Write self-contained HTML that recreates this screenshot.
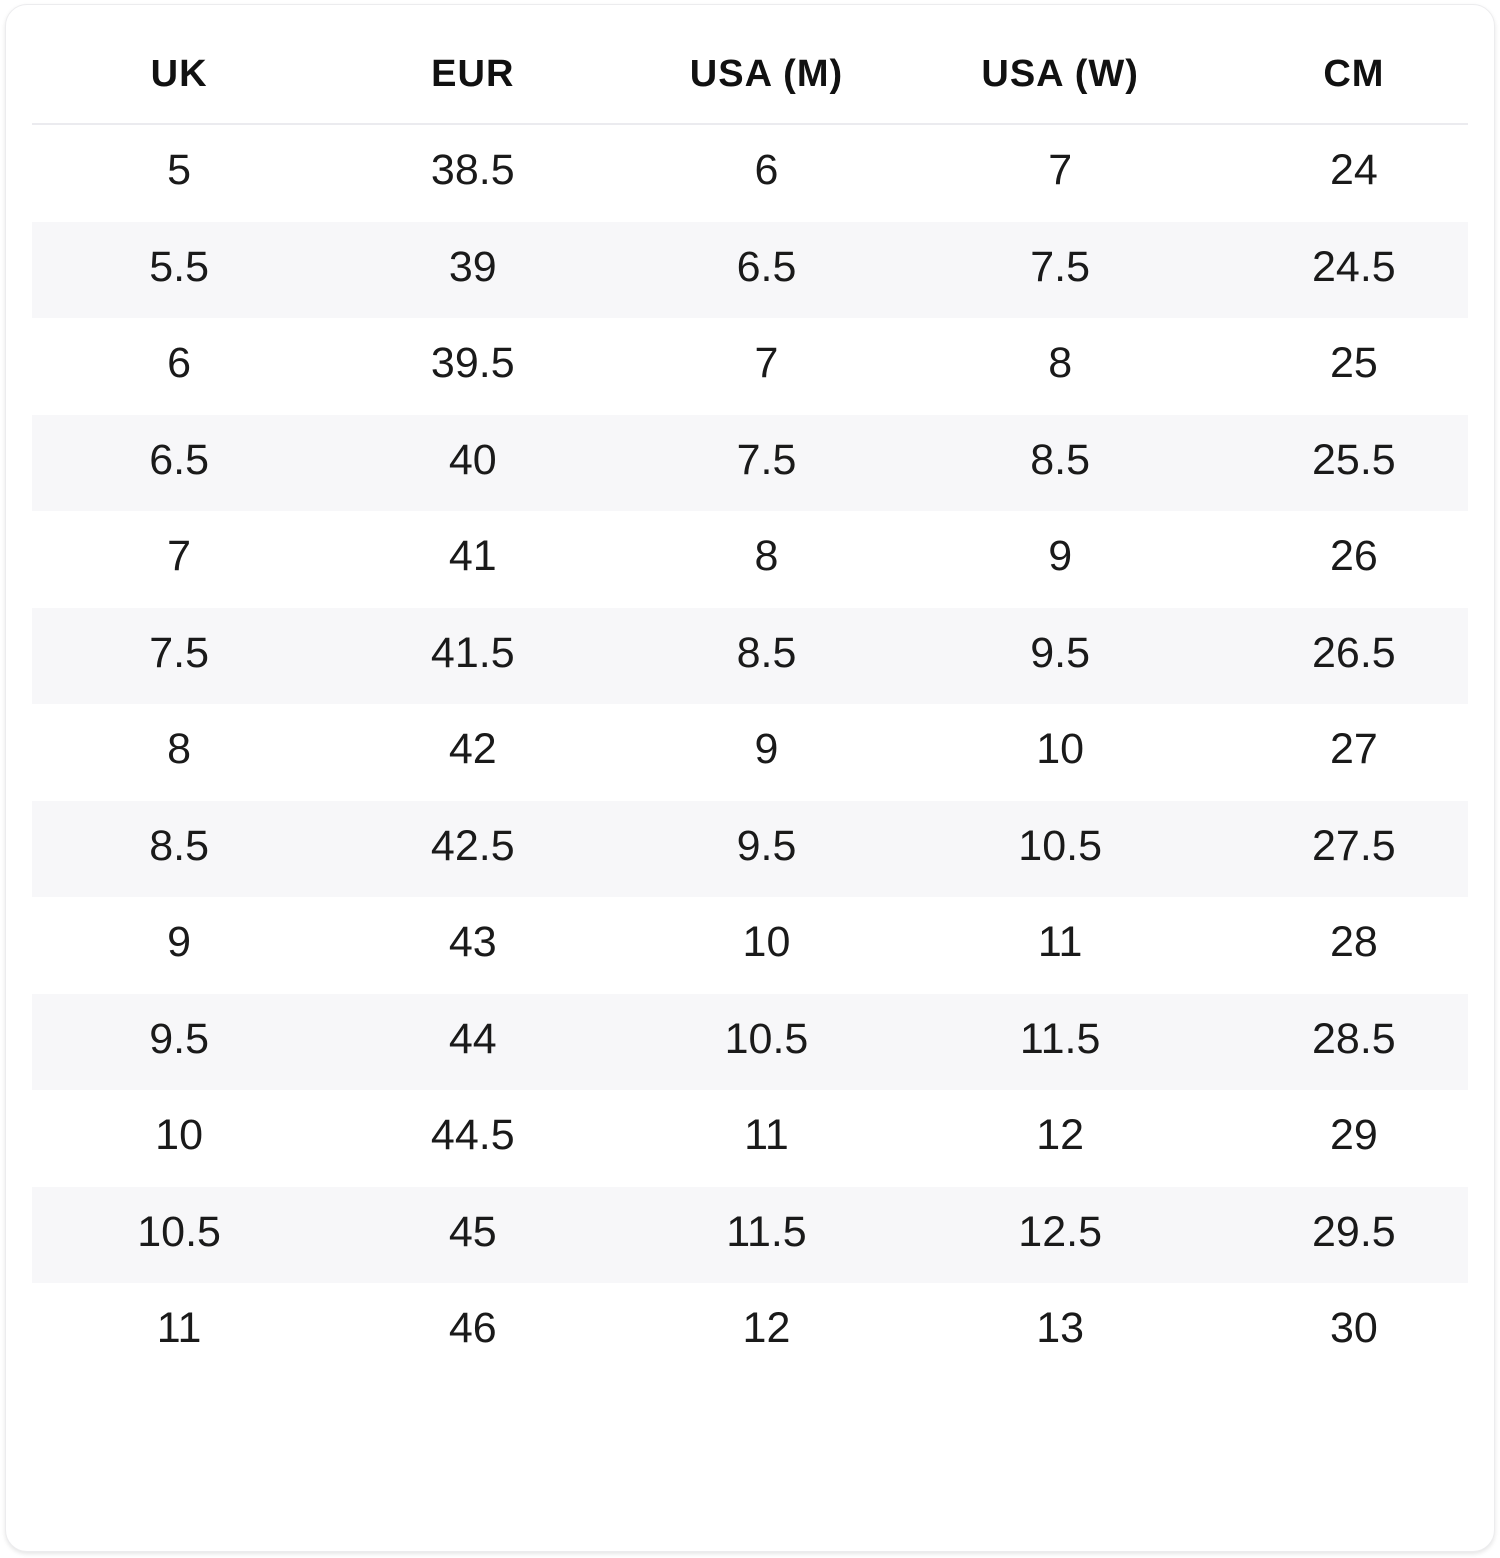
<!DOCTYPE html>
<html><head><meta charset="utf-8"><style>
html,body{margin:0;padding:0;background:#fff;width:1500px;height:1558px;overflow:hidden}
.card{position:absolute;left:5px;top:4px;width:1488px;height:1546px;border:1px solid #ececee;border-radius:22px;box-shadow:0 2px 4px rgba(0,0,0,0.10);background:#fff}
table{position:absolute;left:32px;top:26px;width:1436px;border-collapse:collapse;table-layout:fixed;font-family:"Liberation Sans",sans-serif}
th{height:97px;font-weight:bold;font-size:38px;color:#111;text-align:center;border-bottom:2px solid #ebebef;padding:0;letter-spacing:1px;vertical-align:middle}
td{height:90px;font-size:43px;color:#1a1a1a;text-align:center;padding:0 0 6px 0;vertical-align:middle}
tr:nth-child(odd) td{height:91px}
th:nth-child(1),td:nth-child(1){padding-left:7px}
th:nth-child(2),td:nth-child(2){padding-left:20px}
th:nth-child(3),td:nth-child(3){padding-left:33px}
th:nth-child(4),td:nth-child(4){padding-left:46px}
th:nth-child(5),td:nth-child(5){padding-left:59px}
tr:nth-child(even) td{background:#f7f7f9}
</style></head><body>
<div class="card"></div>
<table>
<colgroup><col><col><col><col><col></colgroup>
<thead><tr><th>UK</th><th>EUR</th><th>USA (M)</th><th>USA (W)</th><th>CM</th></tr></thead>
<tbody>
<tr><td>5</td><td>38.5</td><td>6</td><td>7</td><td>24</td></tr>
<tr><td>5.5</td><td>39</td><td>6.5</td><td>7.5</td><td>24.5</td></tr>
<tr><td>6</td><td>39.5</td><td>7</td><td>8</td><td>25</td></tr>
<tr><td>6.5</td><td>40</td><td>7.5</td><td>8.5</td><td>25.5</td></tr>
<tr><td>7</td><td>41</td><td>8</td><td>9</td><td>26</td></tr>
<tr><td>7.5</td><td>41.5</td><td>8.5</td><td>9.5</td><td>26.5</td></tr>
<tr><td>8</td><td>42</td><td>9</td><td>10</td><td>27</td></tr>
<tr><td>8.5</td><td>42.5</td><td>9.5</td><td>10.5</td><td>27.5</td></tr>
<tr><td>9</td><td>43</td><td>10</td><td>11</td><td>28</td></tr>
<tr><td>9.5</td><td>44</td><td>10.5</td><td>11.5</td><td>28.5</td></tr>
<tr><td>10</td><td>44.5</td><td>11</td><td>12</td><td>29</td></tr>
<tr><td>10.5</td><td>45</td><td>11.5</td><td>12.5</td><td>29.5</td></tr>
<tr><td>11</td><td>46</td><td>12</td><td>13</td><td>30</td></tr>
</tbody></table>
</body></html>
